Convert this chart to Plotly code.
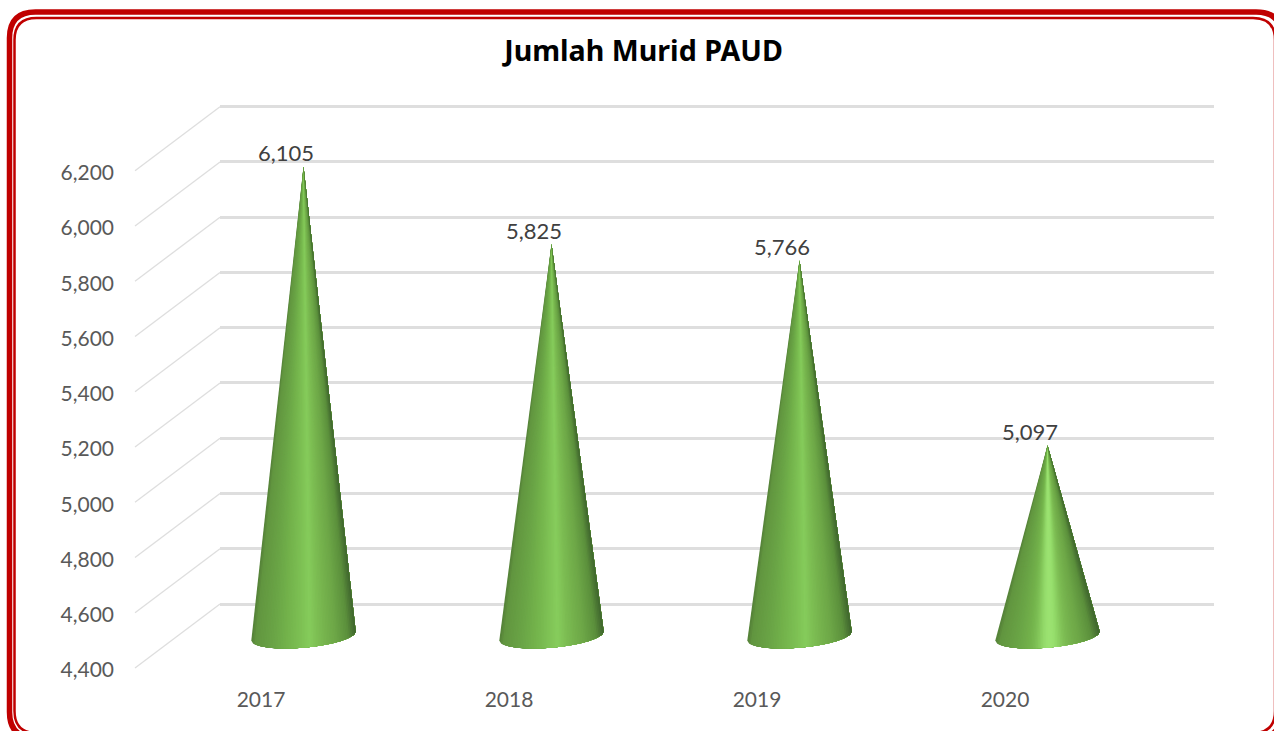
import numpy as np
import plotly.graph_objects as go

W, H = 1274, 731

# ---- data ----
years = ["2017", "2018", "2019", "2020"]
murid = [6105, 5825, 5766, 5097]
y_ticks = [4400, 4600, 4800, 5000, 5200, 5400, 5600, 5800, 6000, 6200]
y_tick_labels = ["4,400", "4,600", "4,800", "5,000", "5,200", "5,400", "5,600", "5,800", "6,000", "6,200"]
title_text = "Jumlah Murid PAUD"

# ---- styles ----
PX_PER_UNIT = 0.27628        # vertical pixels per student
CAT_STEP = 248               # pixels between categories
BACK_Y_4400, FRONT_Y_4400, MID_Y_4400 = 604, 668, 638
BASE_LIFT = 2
FRONT_X0, MID_X0 = 261, 303.5
BACK_LEFT, BACK_RIGHT = 220, 1214
DIAG_DX = 85
CONE_HALF_W = 52.2
BASE_B, BASE_TILT = 11.7, 4.5
N_STRIPS = 64
peak_boost = [0.0, 0.05, 0.0, 0.85]
GRID = "#dedede"
RED = "#c00000"

prof_t = [-1.0, -0.92, -0.6, -0.3, 0.0, 0.12, 0.3, 0.6, 0.85, 1.0]
prof_c = [(84, 128, 56), (98, 150, 64), (106, 164, 70), (116, 180, 76), (128, 196, 86),
          (134, 204, 92), (124, 188, 82), (110, 168, 72), (92, 144, 60), (64, 102, 46)]
peak_c = (160, 232, 118)


def y_range(y4400):
    return [4400 - (H - y4400) / PX_PER_UNIT, 4400 + y4400 / PX_PER_UNIT]


def x_range(x0):
    return [(0 - x0) / CAT_STEP, (W - x0) / CAT_STEP]


def strip_color(t, boost):
    c = [np.interp(t, prof_t, [p[k] for p in prof_c]) for k in range(3)]
    w = boost * np.exp(-((t - 0.03) / 0.2) ** 2)
    c = [c[k] + (peak_c[k] - c[k]) * w for k in range(3)]
    return "rgb(%d,%d,%d)" % tuple(c)


fig = go.Figure()

# back wall subplot (grid only)
fig.add_trace(go.Scatter(x=[0], y=[4400], xaxis="x", yaxis="y", mode="markers",
                         marker=dict(opacity=0), hoverinfo="skip", showlegend=False))

# side wall diagonals, in the front-plane axes
dx = DIAG_DX / CAT_STEP
dv = (FRONT_Y_4400 - BACK_Y_4400) / PX_PER_UNIT
x_axis_left = (135 - FRONT_X0) / CAT_STEP
for v in y_ticks:
    fig.add_trace(go.Scatter(x=[x_axis_left, x_axis_left + dx], y=[v, v + dv], xaxis="x2", yaxis="y2",
                             mode="lines", line=dict(color=GRID, width=1.3),
                             hoverinfo="skip", showlegend=False))

# cones, in the mid-depth axes; each strip covers everything to its right, painted left to right
half_w = CONE_HALF_W / CAT_STEP
b_v, tilt_v = BASE_B / PX_PER_UNIT, BASE_TILT / PX_PER_UNIT
lift_v = BASE_LIFT / PX_PER_UNIT
edges = np.linspace(-1, 1, N_STRIPS + 1)
for i, val in enumerate(murid):
    for s in range(N_STRIPS):
        ts = np.linspace(edges[s], 1, max(3, (N_STRIPS - s) + 1))
        arc_x = i + ts * half_w
        arc_y = 4400 + lift_v + ts * tilt_v - b_v * np.sqrt(np.clip(1 - ts ** 2, 0, 1))
        col = strip_color((edges[s] + edges[s + 1]) / 2, peak_boost[i])
        fig.add_trace(go.Scatter(x=[i, *arc_x, i], y=[val, *arc_y, val], xaxis="x3", yaxis="y3",
                                 mode="lines", fill="toself", fillcolor=col,
                                 line=dict(color="rgba(0,0,0,0)", width=0),
                                 hoverinfo="skip", showlegend=False))
    fig.add_annotation(x=i, y=val, xref="x3", yref="y3", text=f"{val:,}", showarrow=False,
                       xshift=-17.5, yshift=14, yanchor="middle",
                       font=dict(family="Lato, Carlito, sans-serif", size=22, color="#404040"))

hidden = dict(showticklabels=False, showgrid=False, zeroline=False, showline=False, ticks="")
fig.update_layout(
    width=W, height=H, autosize=False,
    margin=dict(l=0, r=0, t=0, b=0, pad=0),
    paper_bgcolor="white", plot_bgcolor="rgba(0,0,0,0)", showlegend=False,
    title=dict(text=f"<b>{title_text}</b>", x=643.5 / W, y=1 - 51 / H, xanchor="center", yanchor="middle",
               font=dict(family="Noto Sans", size=28.6, color="#000000")),
    # back wall
    xaxis=dict(domain=[BACK_LEFT / W, BACK_RIGHT / W], range=[0, 1], **hidden),
    yaxis=dict(domain=[0, 1], range=y_range(BACK_Y_4400), anchor="x",
               showgrid=True, gridcolor=GRID, gridwidth=2.5, tickvals=y_ticks,
               showticklabels=False, zeroline=False, showline=False, ticks=""),
    # front plane, carries the tick labels
    xaxis2=dict(domain=[0, 1], range=x_range(FRONT_X0), anchor="free", position=1 - 685 / H,
                tickmode="array", tickvals=[0, 1, 2, 3], ticktext=years, ticks="",
                showgrid=False, zeroline=False, showline=False,
                tickfont=dict(family="Lato, Carlito, sans-serif", size=21, color="#595959")),
    yaxis2=dict(domain=[0, 1], range=y_range(FRONT_Y_4400), anchor="free", position=135 / W,
                tickmode="array", tickvals=y_ticks, ticktext=y_tick_labels, ticks="",
                ticklabelstandoff=21, ticklabelshift=2, showgrid=False, zeroline=False, showline=False,
                tickfont=dict(family="Lato, Carlito, sans-serif", size=21, color="#595959")),
    # cone plane
    xaxis3=dict(domain=[0, 1], range=x_range(MID_X0), anchor="y3", **hidden),
    yaxis3=dict(domain=[0, 1], range=y_range(MID_Y_4400), anchor="x3", **hidden),
)


def rrect(x0, y0, x1, y1, r):
    x0, x1 = x0 / W, x1 / W
    y0, y1 = 1 - y0 / H, 1 - y1 / H
    rx, ry = r / W, r / H
    return (f"M {x0 + rx} {y0} L {x1 - rx} {y0} Q {x1} {y0} {x1} {y0 - ry} "
            f"L {x1} {y1 + ry} Q {x1} {y1} {x1 - rx} {y1} L {x0 + rx} {y1} "
            f"Q {x0} {y1} {x0} {y1 + ry} L {x0} {y0 - ry} Q {x0} {y0} {x0 + rx} {y0} Z")


for rect, lw in [((9.5, 12, 1282, 738, 26), 5.5), ((14.5, 18, 1275, 733, 22), 2.5)]:
    fig.add_shape(type="path", path=rrect(*rect), xref="paper", yref="paper",
                  line=dict(color=RED, width=lw), fillcolor="rgba(0,0,0,0)", layer="above")

fig.write_html("out.html", config={"displayModeBar": False},
               post_script="document.body.style.margin='0';document.body.style.overflow='hidden';")
